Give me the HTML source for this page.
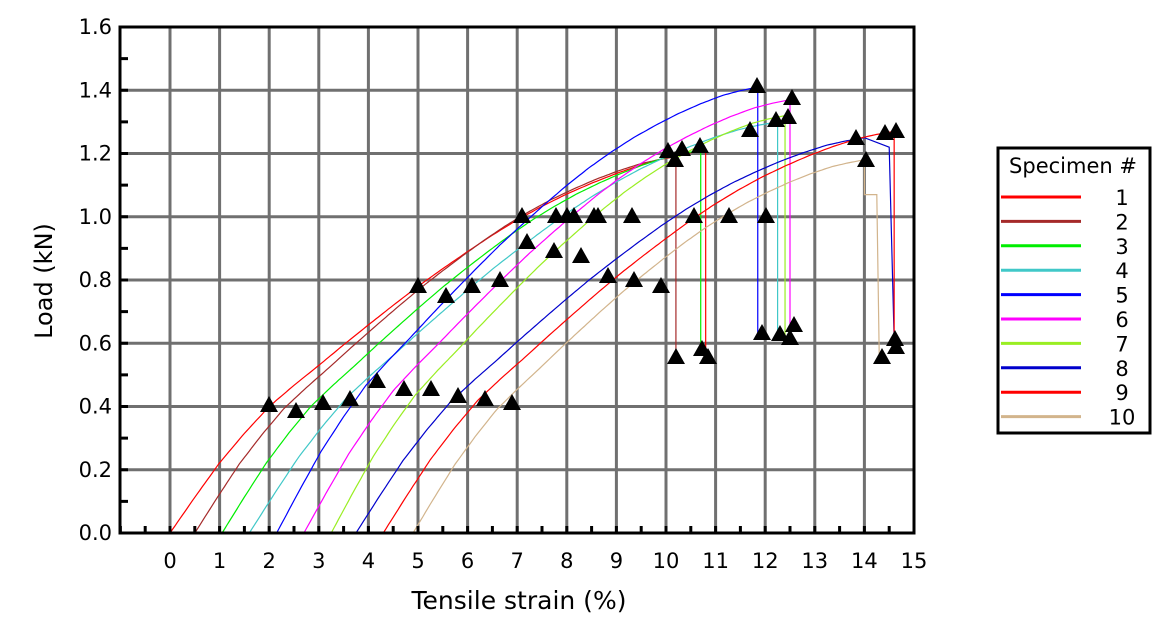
<!DOCTYPE html>
<html><head><meta charset="utf-8"><style>
html,body{margin:0;padding:0;background:#fff;}
svg{display:block;font-family:"DejaVu Sans","Liberation Sans",sans-serif;}
</style></head><body>
<svg id="s" width="1168" height="620" viewBox="0 0 1168 620" xmlns="http://www.w3.org/2000/svg">
<g id="grid" stroke="#707070" stroke-width="3"></g>
<g id="curves" fill="none" stroke-width="1.2"></g>
<g id="tri" fill="#000"></g>
<g id="axes" stroke="#000" stroke-width="3"></g>
<g id="lbl" font-size="21" fill="#000"></g>
<text x="519" y="609" font-size="25" text-anchor="middle">Tensile strain (%)</text>
<text transform="translate(52,281) rotate(-90)" font-size="24" text-anchor="middle">Load (kN)</text>
<rect x="998" y="148" width="152" height="285" fill="#fff" stroke="#000" stroke-width="3"/>
<text x="1073" y="173" font-size="21" text-anchor="middle">Specimen #</text>
<g id="leg"></g>
</svg>
<script>
var NS="http://www.w3.org/2000/svg";
function X(v){return 170+49.6*v;} function Y(l){return 533-316.25*l;}
function el(p,t,a,txt){var e=document.createElementNS(NS,t);for(var k in a)e.setAttribute(k,a[k]);if(txt!==undefined)e.textContent=txt;document.getElementById(p).appendChild(e);return e;}
for(var i=0;i<=15;i++)el('grid','line',{x1:X(i),y1:27,x2:X(i),y2:533});
for(var j=1;j<8;j++)el('grid','line',{x1:120,y1:Y(j*0.2),x2:914,y2:Y(j*0.2)});
el('axes','rect',{x:120,y:27,width:794,height:506,fill:'none'});
for(var j=0;j<=16;j++){el('axes','line',{x1:120,y1:Y(j*0.1),x2:128,y2:Y(j*0.1)});}
for(var i=-2;i<=30;i++){el('axes','line',{x1:X(i/2),y1:533,x2:X(i/2),y2:526});}
for(var j=0;j<=8;j++)el('lbl','text',{x:112,y:Y(j*0.2)+7,'text-anchor':'end'},(j*0.2).toFixed(1));
for(var i=0;i<=15;i++)el('lbl','text',{x:X(i),y:568,'text-anchor':'middle'},String(i));
var G=[[0,0],[0.5,0.113],[1,0.222],[1.5,0.315],[2,0.4],[2.5,0.467],[3,0.53],[3.5,0.595],[4,0.658],[4.5,0.72],[5,0.78],[5.5,0.836],[6,0.89],[6.5,0.942],[7,0.99],[7.5,1.033],[8,1.072],[8.5,1.106],[9,1.137],[9.5,1.164],[10,1.187],[10.4,1.2],[10.8,1.21]];
function g(s){for(var i=1;i<G.length;i++){if(s<=G[i][0]){var a=G[i-1],b=G[i];return a[1]+(b[1]-a[1])*(s-a[0])/(b[0]-a[0]);}}return G[G.length-1][1];}
var C=[
 ['#ff0000',0,10.8,1.21,0.56],
 ['#a52a2a',0.5,10.2,1.19,0.55],
 ['#00ee00',1.05,10.7,1.21,0.58],
 ['#40c8c8',1.6,12.25,1.30,0.62],
 ['#0000ff',2.15,11.85,1.41,0.63],
 ['#ff00ff',2.7,12.5,1.37,0.66],
 ['#99ee22',3.25,12.4,1.32,0.62],
 ['#0000cc',3.75,14.6,1.25,0.61],
 ['#ff0000',4.3,14.6,1.27,0.59],
 ['#d2b48c',4.9,14.3,1.18,0.55]];
C.forEach(function(c,idx){
 var x0=c[1],b=c[2]-x0,Lb=c[3];
 if(idx==9)b=14.0-x0;
 if(idx==7)b=14.0-x0;
 var sx=10.8/b, sy=Lb/1.21;
 var d='M'+X(x0)+','+Y(0);
 for(var s=0.05;s<=b+0.001;s+=0.05)d+=' L'+X(x0+s).toFixed(1)+','+Y(g(s*sx)*sy).toFixed(1);
 if(idx==9){d+=' L'+X(14.0)+','+Y(1.07)+' L'+X(14.25)+','+Y(1.07)+' L'+X(14.3)+','+Y(c[4]);}
 else if(idx==7){d+=' L'+X(14.5)+','+Y(1.22)+' L'+X(14.6)+','+Y(c[4]);}
 else d+=' L'+X(c[2])+','+Y(Lb)+' L'+X(c[2])+','+Y(c[4]);
 el('curves','path',{d:d,stroke:c[0]});
 var ly=197+24.4*idx;
 el('leg','line',{x1:1001,y1:ly,x2:1081,y2:ly,stroke:c[0],'stroke-width':3});
 el('leg','text',{x:1122,y:ly+8,'font-size':21,'text-anchor':'middle'},String(idx+1));
});
var T=[[269,405],[296,411],[323,403],[350,399],[377,381],[404,389],[431,389],[458,396],[485,399],[512,403],
[418,286],[446,296],[472,286],[500,280],[527,242],[554,251],[581,256],[608,276],[634,280],[661,286],
[522,216],[556,216],[567,216],[574,216],[594,216],[598,216],[632,216],[694,216],[729,216],[766,216],
[668,151],[675,160],[682,149],[700,146],[750,130],[776,120],[788,117],[757,86],[792,98],[856,138],[885,133],[896,131],[866,160],
[676,357],[702,349],[708,357],[762,333],[780,334],[790,338],[794,325],[882,357],[895,339],[896,347]];
T.forEach(function(t){el('tri','polygon',{points:(t[0]-9)+','+(t[1]+7)+' '+(t[0]+9)+','+(t[1]+7)+' '+t[0]+','+(t[1]-9)});});
</script>
</body></html>
